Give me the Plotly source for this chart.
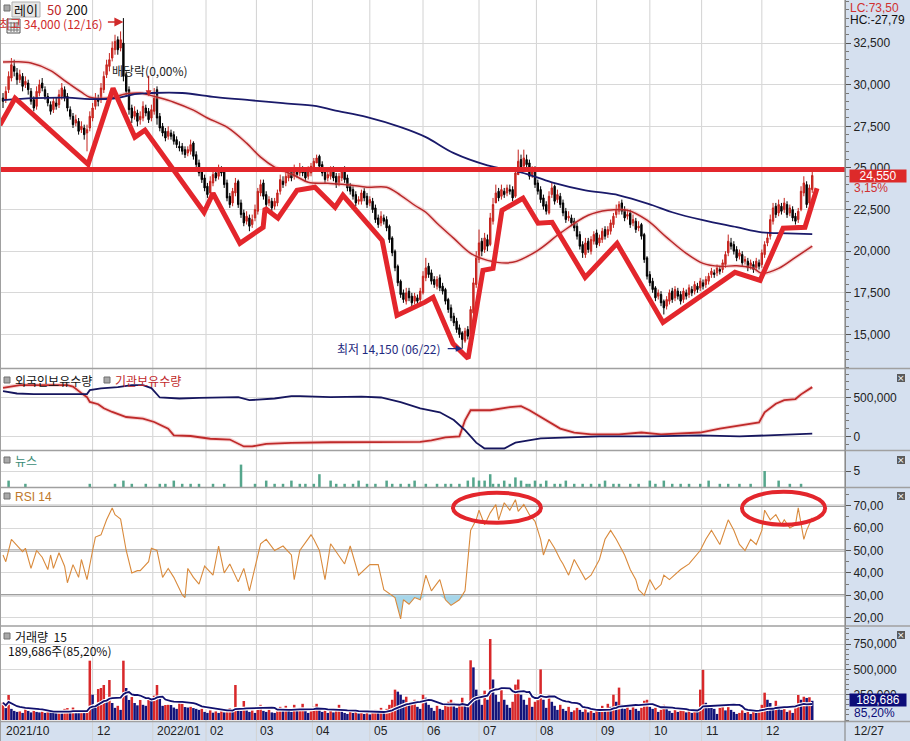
import numpy as np
import pandas as pd
import plotly.graph_objects as go

W, H = 910, 741

# ---------------- data (prices in hundreds of won, volumes in thousands) ----------------
CLOSE_H = [
290,296,305,312,308,303,306,299,302,297,
290,286,296,300,298,293,289,284,290,287,
294,298,292,286,281,276,279,272,275,270,
273,281,286,292,290,298,305,312,315,322,
326,321,327,305,296,285,280,284,278,281,
287,283,279,285,292,280,274,271,268,272,
269,266,264,262,260,258,261,264,257,252,
247,243,238,234,242,246,244,249,247,240,
232,228,236,241,228,222,217,221,215,219,
225,236,240,233,228,231,226,230,235,243,
240,245,247,244,249,246,250,247,244,248,
251,254,256,251,247,243,246,249,244,240,
245,248,243,238,236,233,229,231,235,232,
228,231,225,219,216,221,218,214,207,199,
190,181,174,171,175,172,169,173,170,176,
185,190,186,182,180,183,178,176,170,165,
160,157,153,150,147,152,149,165,181,196,
205,200,208,203,220,228,235,232,237,234,
238,236,232,247,254,250,256,252,245,248,
240,236,231,227,224,233,238,230,234,228,
223,219,221,217,214,209,203,199,205,201,
207,210,204,208,212,209,213,217,221,225,
228,224,220,222,216,219,213,215,209,195,
185,181,177,172,175,169,166,171,175,171,
177,173,170,176,173,178,175,180,177,182,
179,183,185,188,186,190,188,193,198,206,
203,200,196,199,193,195,190,193,189,194,
191,199,204,208,219,226,222,228,224,229,
222,226,220,218,224,236,241,228,238,245.5]

OPEN_H = [
292,291,297,304,311,307,303,305,300,301,
296,291,287,295,301,297,293,288,285,289,
288,293,297,293,285,281,277,278,273,274,
271,274,280,287,291,291,297,306,311,316,
321,327,322,325,306,297,286,281,283,279,
280,286,284,280,284,297,281,275,272,269,
271,270,267,263,263,261,259,260,265,258,
253,248,244,239,235,241,247,245,248,248,
241,233,229,235,242,229,223,218,220,216,
220,224,235,241,234,229,230,227,229,236,
242,241,244,248,245,248,247,249,248,245,
247,250,253,257,252,248,244,245,250,245,
241,244,249,244,239,237,234,230,230,236,
233,229,230,226,220,217,220,219,215,208,
200,191,182,175,170,176,173,170,172,171,
175,184,191,187,183,179,184,179,177,171,
166,161,158,154,151,146,153,150,163,180,
195,206,201,207,204,218,229,236,233,236,
235,237,237,233,246,255,251,255,253,246,
249,241,237,232,228,223,234,239,231,233,
229,224,220,220,218,215,210,204,198,206,
200,206,211,205,207,213,210,212,216,222,
224,229,225,221,223,217,218,214,216,210,
196,186,182,178,173,174,170,167,170,176,
172,176,174,171,175,174,177,176,179,178,
181,180,182,186,187,187,189,189,192,199,
205,204,201,197,198,194,194,191,192,190,
193,192,198,205,209,218,227,223,227,225,
228,223,225,221,219,225,235,240,229,237]

HIGH_H = [
295,299,308,316,315,310,309,307,305,303,
298,293,299,303,304,299,295,290,292,292,
297,301,299,295,287,283,282,280,278,276,
276,284,289,295,294,301,308,315,319,326,
330,329,332,340,308,299,288,287,285,284,
290,288,286,288,298,299,283,277,274,275,
273,272,269,266,265,263,263,267,266,260,
255,250,246,241,245,249,249,252,251,250,
243,235,238,244,243,231,225,224,222,222,
228,238,243,243,236,233,232,232,237,246,
245,248,250,250,252,250,253,251,250,251,
253,256,258,258,254,250,248,251,251,247,
247,250,251,246,241,239,236,233,237,238,
235,233,232,228,222,224,222,221,216,209,
201,192,183,177,178,178,175,175,174,178,
188,196,193,189,185,185,186,181,178,172,
168,163,160,156,152,154,155,167,184,200,
213,208,211,210,223,232,240,238,240,238,
240,240,239,250,261,258,261,258,255,251,
251,243,239,234,230,236,241,240,237,235,
231,226,224,222,220,217,212,206,208,208,
209,212,213,210,214,215,215,219,223,228,
230,231,227,225,225,222,220,218,217,211,
197,188,184,179,177,176,171,173,177,178,
179,178,176,178,177,180,179,182,181,184,
183,185,187,190,189,192,191,195,200,210,
208,206,203,201,200,197,196,195,194,196,
195,201,206,211,222,229,229,231,229,232,
230,228,227,223,226,239,245,242,240,248]

LOW_H = [
286,289,295,302,305,300,301,296,298,294,
288,284,285,293,296,291,287,282,283,285,
286,291,290,284,279,274,275,270,271,267,
260,272,278,285,287,289,295,304,308,314,
318,318,320,302,293,282,277,279,275,276,
278,281,277,278,282,276,272,269,266,267,
267,264,262,260,258,256,257,258,255,250,
245,241,236,232,233,239,242,243,245,238,
230,226,227,233,226,220,215,216,212,214,
218,222,233,231,226,227,224,225,227,234,
238,239,242,242,243,244,245,245,242,243,
245,248,254,249,245,241,242,243,242,238,
239,242,241,236,234,231,227,228,228,230,
226,227,223,217,214,215,216,212,205,197,
188,179,172,169,168,170,167,168,168,169,
174,182,184,180,178,177,176,174,168,163,
158,155,151,148,141.5,145,147,149,162,178,
193,197,199,200,203,216,232,230,231,232,
233,234,230,232,251,248,253,250,243,244,
238,234,229,225,222,222,232,228,229,226,
221,217,218,215,212,207,201,196,196,199,
198,204,202,203,205,207,208,210,214,220,
222,222,218,219,214,215,211,212,207,193,
183,179,175,170,171,167,162,165,168,169,
170,171,168,169,171,172,173,174,175,176,
177,178,180,184,184,185,186,187,190,197,
201,198,194,195,191,192,188,189,187,188,
189,190,196,203,207,216,220,221,222,223,
220,221,218,216,217,224,233,226,227,235]

VOLUME_K = [
171,118,247,110,90,80,85,70,110,90,
75,95,80,75,88,70,90,80,72,68,
75,70,110,118,90,123,80,70,90,85,
95,586,250,120,306,316,346,200,395,168,
120,140,100,586,316,198,227,168,145,198,
150,140,198,188,240,346,227,140,148,150,
148,123,110,188,190,128,123,130,118,110,
100,110,80,70,95,72,85,70,88,75,
100,118,108,346,110,90,188,120,80,95,
70,120,150,90,80,100,75,70,90,130,
110,140,100,80,150,90,120,160,90,70,
85,130,160,100,80,95,70,90,75,110,
150,95,70,60,85,70,90,65,80,60,
75,55,80,100,85,120,90,110,150,200,
300,280,250,200,230,150,160,200,130,110,
250,220,150,120,90,140,110,100,150,180,
200,170,120,150,220,160,130,590,520,300,
240,150,290,200,800,400,250,180,300,200,
150,120,180,350,400,250,200,150,220,130,
180,230,500,200,120,250,180,140,100,150,
110,90,130,80,95,120,100,80,110,75,
90,70,100,85,140,110,160,130,250,180,
320,150,110,130,100,150,110,90,120,190,
200,130,110,120,80,100,150,110,90,70,
100,80,95,110,75,90,70,100,85,300,
495,170,140,120,110,60,120,150,95,160,
100,80,60,70,95,70,80,60,90,70,
85,150,270,200,168,120,190,140,100,120,
80,95,70,150,247,200,230,218,225,189.686]

MA50_IDX = [0,5,10,17,22,28,31,38,44,49,55,61,68,73,80,87,92,97,104,109,
            116,124,130,137,142,147,151,155,161,167,173,182,191,199,209,216,223,230,237,244,
            250,256,262,268,271,277,283,289]
MA50_H = [313.6,313.8,313,308.5,302.5,295.5,292.5,292,294.5,295,292.5,289.5,284.7,280,274.5,264.9,256.5,250.5,245.6,241.4,
          240.8,239.8,238.4,238.4,233.6,227.6,223.4,216.8,207.7,198.7,194.5,193.3,200.5,210.8,221.6,224.6,224.6,218.6,208.3,198.7,
          192.7,190.9,191.2,189.7,186.7,189.7,196.3,203]

MA200_IDX = [0,11,23,31,41,47,53,64,76,88,100,112,118,130,142,151,161,173,185,196,208,220,232,239,250,262,271,280,289]
MA200_H = [290.7,291.9,292.2,291.3,292,294.3,295,295,292.5,290.7,288.9,287.1,284.7,280.5,274.5,268.5,258.9,251.6,247.4,241.4,
           236.6,233.6,227.6,223.4,218.6,214.4,211.3,210.7,210.2]

FOREIGN_IDX = [0,5,11,25,30,31,35,41,46,50,53,56,63,70,82,84,88,92,97,103,106,117,128,135,142,149,156,161,165,169,
               172,179,183,192,203,213,231,249,263,274,281,289]
FOREIGN_K = [581,551,543,543,543,594,616,633,659,659,620,500,487,495,495,504,465,475,487,517,517,505,510,500,440,360,310,210,80,-80,
             -155,-155,-80,-25,-10,0,0,13,0,13,26,35]

INST_IDX = [0,6,23,25,28,30,31,34,36,39,44,50,54,59,61,67,74,81,86,89,94,103,117,135,149,153,158,163,165,167,
            174,181,185,188,194,199,204,210,220,228,235,242,249,256,263,270,272,276,279,283,285,287,289]
INST_K = [624,659,659,640,556,504,443,413,362,314,249,229,185,99,13,5,-30,-40,-129,-129,-95,-82,-75,-70,-70,-52,-13,0,207,336,
          336,375,388,336,207,100,50,26,26,50,26,39,50,100,140,180,310,420,465,480,540,590,633]

NEWS_IDX = [2,8,31,40,43,46,51,56,58,61,64,67,70,75,79,85,90,94,97,100,103,106,108,111,113,117,119,122,125,127,
            130,133,137,139,142,145,147,151,155,158,160,163,166,168,170,172,174,175,177,179,181,183,185,187,188,190,192,194,197,199,
            201,204,207,210,213,215,218,220,224,227,231,233,236,239,242,245,249,252,256,259,263,267,272,277,281,285]
NEWS_CNT = [2,1,1,1,2,1,1,1,1,2,1,1,1,1,1,7,1,2,1,1,2,1,1,1,4,2,1,1,1,2,
            1,1,2,1,1,1,2,1,1,1,1,1,2,3,2,2,4,1,1,2,1,3,2,1,1,2,1,2,1,1,
            2,1,1,1,1,2,1,1,1,1,2,1,2,1,1,1,1,2,1,1,1,1,5,2,1,1]

RSI_IDX = [0,1,3,5,7,8,10,12,14,16,17,18,20,22,23,25,27,28,30,32,33,35,37,39,40,41,42,44,46,48,
           49,52,53,55,57,59,61,64,65,66,68,70,72,75,77,79,81,84,86,88,92,94,97,100,103,104,106,110,111,113,
           115,117,122,124,127,131,134,136,140,142,143,145,147,149,151,153,156,158,160,163,165,167,169,170,172,174,176,177,179,181,
           183,184,186,188,190,192,193,195,197,199,200,202,204,206,208,210,213,215,217,219,222,224,226,227,229,231,233,235,236,238,
           242,245,249,251,253,256,259,261,263,265,267,269,271,272,274,276,278,279,281,283,284,286,287,289]
RSI_VAL = [48,45,55,52,49.5,51,42,50,47,41.5,48,42,49,43,35.6,43.7,38,46,37,50,56,57,63.7,69,66,65,64,50,40,41,
           41,45,51,50,38,42,38,30.3,29,42,38,35,43,39,52,40,44,36,42,32,53,55,50,52,48,37,50,57,55,50,
           37,53,44,52,39,43.7,43.7,32.5,29,19.5,28,26,29,28,39,32,37,28,25.5,28,32,59,63.7,68,61.5,66.8,70.5,63.7,71.3,68,
           72.7,67.5,70.5,66,63,55,48,55,51,46,44,39,46,41.5,37,39,46,55,59,55,48,41.5,37,32.5,30,37,32.5,34.8,39,37,
           41.5,44,50,55,59,52.7,63.7,59,52.7,50,55,52.7,59,68,63.7,66,61.5,63.7,60,61.5,69,55,59,64.6]

MONTH_IDX = [0,32,53.5,72.5,90.5,110.5,131,150,170,190.5,212,231,249.5,271]
MONTH_LABELS = ["2021/10","12","2022/01","02","03","04","05","06","07","08","09","10","11","12"]

# user drawings
ZIG_IDX = [-1.1,4.3,30.4,39.3,47.1,50.7,71.8,75,84.6,92.9,93.6,98.2,105,111.4,118.6,121.4,135.4,140.7,150.7,153.6,
           160.7,166.1,171.4,175,178.2,185.7,191.1,196.1,207.9,219.3,235.7,261.4,270.4,278.6,286.4,290.7]
ZIG_PRICE = [27570,29190,25220,29790,26850,27270,22340,23480,20470,21440,22580,21980,23660,23840,22640,23360,20650,16140,16940,17230,
             14460,13560,18850,18970,22460,23180,21680,21740,18430,20470,15720,18730,18250,21380,21440,23780]
RESIST_LEVEL = 24900
ELLIPSE_IDX = [(160.7, 192.1), (263.9, 293.6)]
ELLIPSE_RSI = [(62.4, 75.8), (61.5, 76.2)]

HIGH_IDX, HIGH_VAL, HIGH_LABEL = 43, 34000, "최고 34,000 (12/16)"
LOW_IDX, LOW_VAL, LOW_LABEL = 164, 14150, "최저 14,150 (06/22)"
EXDIV_IDX, EXDIV_PRICE = 52, 29300
LAST_PRICE_TXT, LAST_PCT_TXT = "24,550", "3,15%"
LAST_VOL_TXT, LAST_VOL_PCT = "189,686", "85,20%"

# ---------------- build ----------------
N = len(CLOSE_H)
xi = np.arange(N)
o = np.array(OPEN_H, float) * 100
h = np.array(HIGH_H, float) * 100
l = np.array(LOW_H, float) * 100
c = np.array(CLOSE_H, float) * 100
vol = np.array(VOLUME_K, float) * 1000
vol_ma = pd.Series(vol).rolling(15, min_periods=1).mean().values
vol_col = ['#d8282a' if (i == 0 or vol[i] >= vol[i - 1]) else '#14147a' for i in range(N)]

RED = '#e3262c'
NAVY = '#16165e'
XD = 845 / W

def py(y):
    return 1 - y / H

def px(x):
    return x / W

fig = go.Figure()

# price panel
fig.add_trace(go.Scatter(x=MA50_IDX, y=np.array(MA50_H) * 100, mode='lines', line=dict(color='rgba(235,140,140,0.35)', width=4, shape='spline'),
                         yaxis='y', hoverinfo='skip', showlegend=False))
fig.add_trace(go.Scatter(x=MA50_IDX, y=np.array(MA50_H) * 100, mode='lines', line=dict(color='#b8282a', width=1.5, shape='spline'),
                         yaxis='y', hoverinfo='skip', showlegend=False))
fig.add_trace(go.Scatter(x=MA200_IDX, y=np.array(MA200_H) * 100, mode='lines', line=dict(color='#1a1a6a', width=1.8, shape='spline'),
                         yaxis='y', hoverinfo='skip', showlegend=False))
fig.add_trace(go.Candlestick(x=xi, open=o, high=h, low=l, close=c, yaxis='y',
                             increasing=dict(line=dict(color='#c4221c', width=1), fillcolor='#d6302a'),
                             decreasing=dict(line=dict(color='#000000', width=1), fillcolor='#000000'),
                             whiskerwidth=0, showlegend=False, hoverinfo='skip'))
fig.add_trace(go.Scatter(x=ZIG_IDX, y=ZIG_PRICE, mode='lines', line=dict(color=RED, width=5),
                         yaxis='y', hoverinfo='skip', showlegend=False))

# holdings panel
fig.add_trace(go.Scatter(x=INST_IDX, y=np.array(INST_K) * 1000, mode='lines', line=dict(color='rgba(235,140,140,0.35)', width=4),
                         yaxis='y2', hoverinfo='skip', showlegend=False))
fig.add_trace(go.Scatter(x=INST_IDX, y=np.array(INST_K) * 1000, mode='lines', line=dict(color='#bf2a2a', width=1.8),
                         yaxis='y2', hoverinfo='skip', showlegend=False))
fig.add_trace(go.Scatter(x=FOREIGN_IDX, y=np.array(FOREIGN_K) * 1000, mode='lines', line=dict(color=NAVY, width=1.8),
                         yaxis='y2', hoverinfo='skip', showlegend=False))

# news panel
fig.add_trace(go.Bar(x=NEWS_IDX, y=NEWS_CNT, width=0.9, marker=dict(color='#55a68c', line=dict(width=0)),
                     yaxis='y3', hoverinfo='skip', showlegend=False))

# RSI panel
rsi = np.array(RSI_VAL, float)
fig.add_trace(go.Scatter(x=RSI_IDX, y=np.full(len(rsi), 30.0), mode='lines', line=dict(width=0, color='rgba(0,0,0,0)'),
                         yaxis='y4', hoverinfo='skip', showlegend=False))
fig.add_trace(go.Scatter(x=RSI_IDX, y=np.minimum(rsi, 30), mode='lines', line=dict(width=0, color='rgba(0,0,0,0)'),
                         fill='tonexty', fillcolor='#a6d6ea', yaxis='y4', hoverinfo='skip', showlegend=False))
fig.add_trace(go.Scatter(x=RSI_IDX, y=rsi, mode='lines', line=dict(color='#d98a3c', width=1.1),
                         yaxis='y4', hoverinfo='skip', showlegend=False))

# volume panel
fig.add_trace(go.Bar(x=xi, y=vol, width=0.9, marker=dict(color=vol_col, line=dict(width=0)),
                     yaxis='y5', hoverinfo='skip', showlegend=False))
fig.add_trace(go.Scatter(x=xi, y=vol_ma, mode='lines', line=dict(color='white', width=4),
                         yaxis='y5', hoverinfo='skip', showlegend=False))
fig.add_trace(go.Scatter(x=xi, y=vol_ma, mode='lines', line=dict(color='#10106e', width=1.8),
                         yaxis='y5', hoverinfo='skip', showlegend=False))

TICKFONT = dict(family='Liberation Sans, DejaVu Sans', size=12, color='#222222')

def yax(domain, rng, tickvals, ticktext, minor_dtick=None):
    d = dict(domain=domain, range=rng, side='right', anchor='x', showline=True, linecolor='#8c8c8c', linewidth=1,
             ticks='outside', ticklen=5, tickcolor='#555555', tickfont=TICKFONT, gridcolor='#d8d8d8', gridwidth=1,
             zeroline=False, fixedrange=True, tickmode='array', tickvals=tickvals, ticktext=ticktext)
    if minor_dtick:
        d['minor'] = dict(tickmode='linear', tick0=0, dtick=minor_dtick, ticks='outside', ticklen=3,
                          tickcolor='#777777', showgrid=False)
    return d

price_ticks = list(range(15000, 32501, 2500))
fig.update_layout(
    width=W, height=H, margin=dict(l=0, r=0, t=0, b=0),
    paper_bgcolor='white', plot_bgcolor='rgba(0,0,0,0)', showlegend=False, hovermode=False,
    barmode='overlay',
    font=dict(family='Noto Sans CJK KR, Liberation Sans', size=12, color='#222'),
    xaxis=dict(domain=[0, XD], range=[-1.07, 300.7], anchor='y5', showticklabels=False, showgrid=False,
               zeroline=False, showline=False, ticks='', fixedrange=True, rangeslider=dict(visible=False)),
    yaxis=yax([py(368.5), 1], [12956, 35086], price_ticks, [f"{v:,}" for v in price_ticks], 500),
    yaxis2=yax([py(450.5), py(369)], [-180880, 865640], [0, 500000], ["0", "500,000"], 100000),
    yaxis3=yax([py(487), py(451)], [0, 11.25], [5], ["5"], None),
    yaxis4=yax([py(625.5), py(488)], [16.52, 77.9], [20, 30, 40, 50, 60, 70],
               ["20,00", "30,00", "40,00", "50,00", "60,00", "70,00"], 5),
    yaxis5=yax([py(721), py(627)], [-9881, 918900], [250000, 500000, 750000],
               ["250,000", "500,000", "750,000"], 50000),
)

shapes = []
shapes.append(dict(type='rect', xref='paper', yref='paper', x0=XD, x1=1, y0=0, y1=1,
                   fillcolor='#d5e0ef', line=dict(width=0), layer='below'))
shapes.append(dict(type='rect', xref='paper', yref='paper', x0=0, x1=1, y0=0, y1=py(721.5),
                   fillcolor='#d5e0ef', line=dict(width=0), layer='below'))
for m in MONTH_IDX[1:]:
    shapes.append(dict(type='line', xref='x', yref='paper', x0=m, x1=m, y0=0, y1=1,
                       line=dict(color='#d2d2d2', width=1), layer='below'))
for lv in (70, 50, 30):
    shapes.append(dict(type='line', xref='paper', yref='y4', x0=0, x1=XD, y0=lv, y1=lv,
                       line=dict(color='#7f7f7f', width=2), layer='below'))
shapes.append(dict(type='line', xref='paper', yref='y', x0=0, x1=XD, y0=RESIST_LEVEL, y1=RESIST_LEVEL,
                   line=dict(color=RED, width=5)))
for (a, b), (lo, hi) in zip(ELLIPSE_IDX, ELLIPSE_RSI):
    shapes.append(dict(type='circle', xref='x', yref='y4', x0=a, x1=b, y0=lo, y1=hi,
                       line=dict(color=RED, width=4)))
for yy in (368.5, 450.5, 487.5, 626, 721.5):
    shapes.append(dict(type='line', xref='paper', yref='paper', x0=0, x1=1, y0=py(yy), y1=py(yy),
                       line=dict(color='#a0a0a0', width=1.5)))
shapes.append(dict(type='line', xref='paper', yref='paper', x0=XD, x1=XD, y0=0, y1=1,
                   line=dict(color='#8c8c8c', width=1.2)))
shapes.append(dict(type='line', xref='paper', yref='paper', x0=px(0.5), x1=px(0.5), y0=0, y1=1,
                   line=dict(color='#a0a0a0', width=1)))
for (sx, sy) in [(4, 5), (4, 377), (104, 377), (4, 457), (4, 493), (4, 633)]:
    shapes.append(dict(type='rect', xref='paper', yref='paper', x0=px(sx), x1=px(sx + 6), y0=py(sy + 6), y1=py(sy),
                       fillcolor='#a8a8a8', line=dict(color='#707070', width=1)))
shapes.append(dict(type='rect', xref='paper', yref='paper', x0=px(12), x1=px(40), y0=py(17), y1=py(2),
                   fillcolor='#e6e6e6', line=dict(color='#b0b0b0', width=1)))
shapes.append(dict(type='rect', xref='paper', yref='paper', x0=px(7), x1=px(20), y0=py(33), y1=py(19),
                   fillcolor='#f4f4f4', line=dict(color='#555555', width=1)))
for gy in (23, 27, 30):
    shapes.append(dict(type='line', xref='paper', yref='paper', x0=px(8), x1=px(19), y0=py(gy), y1=py(gy),
                       line=dict(color='#777777', width=1)))
for gx in (11, 14, 17):
    shapes.append(dict(type='line', xref='paper', yref='paper', x0=px(gx), x1=px(gx), y0=py(32), y1=py(22),
                       line=dict(color='#777777', width=1)))
for by in (374, 456, 492, 631):
    shapes.append(dict(type='rect', xref='paper', yref='paper', x0=px(897), x1=px(905), y0=py(by + 8), y1=py(by),
                       fillcolor='#5a5a5a', line=dict(width=0)))
fig.update_layout(shapes=shapes)

ann = []

def text(t, x, y, color='#222', size=12, anchor='left', family='Noto Sans CJK KR, Liberation Sans', **kw):
    d = dict(text=t, xref='paper', yref='paper', x=px(x), y=py(y), xanchor=anchor, yanchor='middle',
             showarrow=False, font=dict(family=family, size=size, color=color))
    d.update(kw)
    ann.append(d)

text("레이", 26, 9.5, '#111', 13, 'center')
text("50", 45, 9.5, '#c0282a', 13)
text("200", 64, 9.5, '#111', 13)
ann.append(dict(x=HIGH_IDX, y=HIGH_VAL, xref='x', yref='y', text='', showarrow=True, ax=-17, ay=0,
                arrowhead=2, arrowsize=1.2, arrowwidth=1.5, arrowcolor='#d02a2a', yshift=-4))
ann.append(dict(x=HIGH_IDX, y=HIGH_VAL, xref='x', yref='y', text=HIGH_LABEL, showarrow=False,
                xanchor='right', yanchor='middle', xshift=-18, yshift=-5,
                font=dict(family='Noto Sans CJK KR, Liberation Sans', size=12, color='#d02a2a')))
ann.append(dict(x=LOW_IDX, y=LOW_VAL, xref='x', yref='y', text='', showarrow=True, ax=-16, ay=0,
                arrowhead=2, arrowsize=1, arrowwidth=1.3, arrowcolor='#1e2a80'))
ann.append(dict(x=LOW_IDX, y=LOW_VAL, xref='x', yref='y', text=LOW_LABEL, showarrow=False,
                xanchor='right', yanchor='middle', xshift=-19,
                font=dict(family='Noto Sans CJK KR, Liberation Sans', size=12, color='#1e2a80')))
ann.append(dict(x=EXDIV_IDX, y=EXDIV_PRICE, xref='x', yref='y', text='', showarrow=True, ax=0, ay=-22,
                arrowhead=2, arrowsize=1, arrowwidth=1.2, arrowcolor='#d02a2a'))
text("배당락(0,00%)", 110, 70, '#222', 12)

text("LC:73,50", 848, 8, '#d03030', 12, family='Liberation Sans, DejaVu Sans')
text("HC:-27,79", 848, 20, '#111', 12, family='Liberation Sans, DejaVu Sans')
text(LAST_PRICE_TXT, 878, 176, 'white', 12, 'center', family='Liberation Sans, DejaVu Sans',
     bgcolor='#dd2a2a', width=56, height=12, borderpad=0)
text(LAST_PCT_TXT, 852, 188, '#d03030', 12, family='Liberation Sans, DejaVu Sans')
text(LAST_VOL_TXT, 878, 700, 'white', 12, 'center', family='Liberation Sans, DejaVu Sans',
     bgcolor='#0c0c78', width=56, height=12, borderpad=0)
text(LAST_VOL_PCT, 852, 713, '#0c0c78', 12, family='Liberation Sans, DejaVu Sans')

text("외국인보유수량", 13, 380.5, '#111', 12)
text("기관보유수량", 113, 380.5, '#c0282a', 12)
text("뉴스", 13, 460.5, '#3a8c76', 12)
text("RSI 14", 13, 496.5, '#c0782a', 12, family='Liberation Sans, DejaVu Sans')
text("거래량  15", 13, 636.5, '#111', 12)
text("189,686주(85,20%)", 6, 650, '#111', 12)

for by in (374, 456, 492, 631):
    text("×", 901, by + 4, 'white', 9, 'center', family='DejaVu Sans')

for m, lab in zip(MONTH_IDX, MONTH_LABELS):
    ann.append(dict(x=m, y=py(731), xref='x', yref='paper', text=lab, showarrow=False, xanchor='left',
                    yanchor='middle', xshift=(2 if m > 0 else 1),
                    font=dict(family='Liberation Sans, DejaVu Sans', size=12, color='#222')))
text("12/27", 852, 731, '#222', 12, family='Liberation Sans, DejaVu Sans')

fig.update_layout(annotations=ann)
fig.write_html("out.html")
